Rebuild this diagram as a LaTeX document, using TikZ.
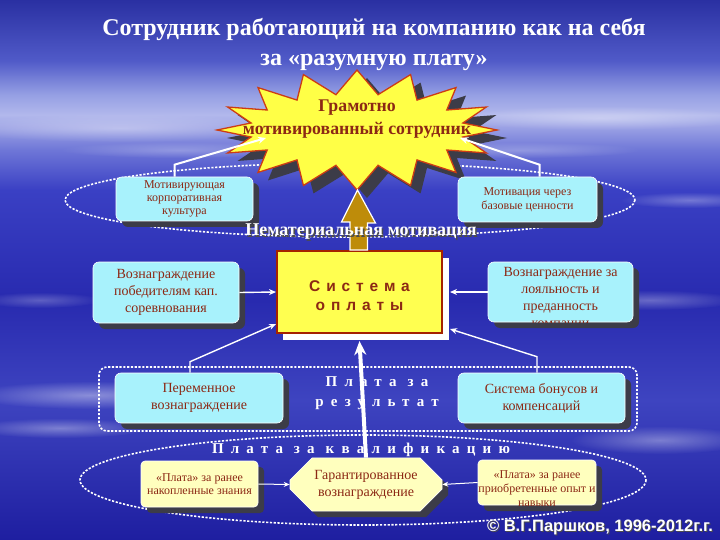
\documentclass[tikz,border=0pt]{standalone}
\usepackage{fontspec}
\setmainfont{Liberation Serif}
\newfontfamily\sansf{Liberation Sans}
\usetikzlibrary{shapes.misc,shadows,arrows.meta,fadings,calc}
\definecolor{boxcyan}{RGB}{168,242,252}
\definecolor{txtred}{RGB}{140,40,20}
\definecolor{starfill}{RGB}{255,255,70}
\definecolor{starborder}{RGB}{205,60,20}
\definecolor{sofill}{RGB}{255,255,80}
\definecolor{soborder}{RGB}{165,35,0}
\definecolor{ylight}{RGB}{255,255,190}
\definecolor{shadowgrey}{RGB}{60,60,72}
\definecolor{brownarrow}{RGB}{190,140,10}
\definecolor{bgA}{RGB}{30,30,160}
\definecolor{bgB}{RGB}{62,68,192}
\definecolor{bgC}{RGB}{40,42,175}
\definecolor{bgD}{RGB}{58,64,196}
\definecolor{bgE}{RGB}{110,118,215}
\definecolor{bgF}{RGB}{178,184,236}
\definecolor{bgG}{RGB}{150,160,228}
\definecolor{bgH}{RGB}{80,90,200}
\definecolor{bgI}{RGB}{42,48,162}
\pgfdeclareverticalshading{bgsh}{100bp}{color(0bp)=(bgA); color(25bp)=(bgA); color(37.96bp)=(bgB); color(47.2bp)=(bgC); color(57.4bp)=(bgD); color(61.1bp)=(bgE); color(64.35bp)=(bgF); color(66.2bp)=(bgG); color(69.4bp)=(bgH); color(75bp)=(bgI); color(100bp)=(bgI)}
\tikzfading[name=softspot, inner color=transparent!0, outer color=transparent!100]
\tikzset{
  shd/.style={drop shadow={shadow xshift=6pt, shadow yshift=-6pt, fill=shadowgrey, opacity=1}},
  cbox/.style={rectangle, rounded corners=6pt, fill=boxcyan, draw=white, line width=0.6pt, text=txtred, align=center, inner sep=1pt, shd},
  ybox/.style={rectangle, rounded corners=4pt, fill=ylight, draw=white, line width=0.6pt, text=txtred, align=center, inner sep=1pt, shd},
  dotline/.style={draw=white, line width=1.6pt, dash pattern=on 2.2pt off 1.6pt},
  warrow/.style={draw=white, line width=2pt, -{Stealth[length=8pt,width=7pt]}},
  tarrow/.style={draw=white, line width=1.4pt, -{Stealth[length=7pt,width=6pt]}},
  thinarrow/.style={draw=white, line width=1pt, -{Stealth[length=6pt,width=5pt]}},
  bigarrow/.style={draw=white, line width=4pt, -{Stealth[length=14pt,width=12pt]}},
  wtext/.style={text=white, align=center},
  boxfont/.style={font=\fontsize{14}{17}\selectfont},
}
\newcommand{\starshape}{(0:140 and 60) \foreach \i [evaluate=\i as \rx using {mod(\i,2)==0 ? 140 : 108}, evaluate=\i as \ry using {mod(\i,2)==0 ? 60 : 36}] in {1,...,31} { -- ({\i*11.25}:{\rx} and {\ry}) } -- cycle}
\begin{document}
\begin{tikzpicture}[x=1pt,y=-1pt]
\useasboundingbox (0,0) rectangle (720,540);
\shade[shading=bgsh] (0,0) rectangle (720,540);
% streaks
\foreach \cx/\cy/\rx/\ry/\op in {120/128/170/14/0.35, 600/118/150/12/0.35, 90/395/120/14/0.4, 60/428/90/10/0.35, 650/300/90/10/0.3, 660/440/90/14/0.35, 40/300/60/8/0.25, 690/200/70/8/0.3, 180/150/120/8/0.25, 520/150/120/8/0.25}{
  \fill[white, opacity=\op, path fading=softspot] (\cx,\cy) ellipse ({\rx} and {\ry});
}
% title
\node[wtext, font=\bfseries\fontsize{24}{30}\selectfont] (title) at (374,45) {Сотрудник работающий на компанию как на себя\\за «разумную плату»};
% top dotted ellipse
\draw[dotline] (350,200) ellipse (285 and 37);
% star
\begin{scope}[shift={(357,130)}]
\fill[shadowgrey, shift={(10,8)}] \starshape;
\filldraw[fill=starfill, draw=starborder, line width=1.3pt, line join=miter] \starshape;
\end{scope}
\node[text=txtred, align=center, font=\bfseries\fontsize{17.8}{23}\selectfont] (star) at (357,119) {Грамотно\\мотивированный сотрудник};
\coordinate (starL) at (266,138);
\coordinate (starR) at (460,138);
% top boxes
\node[cbox, minimum width=137pt, minimum height=44pt, font=\fontsize{12}{13}\selectfont] (mkk) at (184.5,199) {Мотивирующая\\корпоративная\\культура};
\node[cbox, minimum width=139pt, minimum height=45pt, font=\fontsize{12}{14}\selectfont] (mbc) at (527.5,199.5) {Мотивация через\\базовые ценности};
\draw[warrow] ([xshift=-10pt]mkk.north) -- ++(0,-12) -- (starL);
\draw[warrow] ([xshift=12pt]mbc.north) -- ++(0,-12) -- (starR);
% Система оплаты
\fill[white] (283,258) rectangle (449,340);
\node[rectangle, fill=sofill, draw=soborder, line width=2pt, minimum width=165pt, minimum height=82pt, text=txtred, align=center, font=\sansf\bfseries\fontsize{15.5}{19}\selectfont\addfontfeature{LetterSpace=38}] (so) at (359.5,292) {\rule{0pt}{19pt}Система\\оплаты};
% brown arrow
\draw[fill=brownarrow, draw=white, line width=1.2pt] ([xshift=-9.5pt]so.north) -- ++(0,-28) -- ++(-8.5,0) -- (357.5,190) -- ([xshift=16pt]so.north |- 0,223) -- ([xshift=8pt]so.north |- 0,223) -- ([xshift=8pt]so.north) -- cycle;
% Нематериальная мотивация
\node[text=black!70, font=\bfseries\fontsize{18}{20}\selectfont] at (362.5,233.5) {Нематериальная мотивация};
\node[wtext, font=\bfseries\fontsize{18}{20}\selectfont] (nm) at (361,232) {Нематериальная мотивация};
% middle boxes
\node[cbox, minimum width=146pt, minimum height=61pt, boxfont] (vpk) at (166,292.5) {Вознаграждение\\победителям кап.\\соревнования};
\node[cbox, minimum width=145pt, minimum height=60pt] (vlp) at (560.5,292) {};
\begin{scope}
\clip[rounded corners=6pt] (vlp.south west) rectangle (vlp.north east);
\node[text=txtred, align=center, boxfont] (vlpt) at (560.5,297) {Вознаграждение за\\лояльность и\\преданность\\компании};
\end{scope}
\draw[tarrow] (vpk.east) -- (so.west);
\draw[tarrow] (vlp.west) -- ([xshift=7pt]so.east);
% Плата за результат
\draw[dotline, rounded corners=8pt] (99,367) rectangle (637,431);
\node[cbox, minimum width=168pt, minimum height=50pt, boxfont] (pv) at (199,398) {Переменное\\вознаграждение};
\node[cbox, minimum width=167pt, minimum height=50pt, boxfont] (sbk) at (541.5,398) {Система бонусов и\\компенсаций};
\node[wtext, font=\bfseries\fontsize{15}{20}\selectfont\addfontfeature{LetterSpace=48}] (pzr) at (377,393) {Плата за\\результат};
\draw[tarrow] ([xshift=-9pt]pv.north) -- ++(0,-11) -- ([yshift=10pt]so.south west);
\draw[tarrow] ([xshift=-4.5pt]sbk.north) -- ++(0,-16) -- ([xshift=7pt,yshift=5pt]so.south east);
% Плата за квалификацию
\draw[dotline] (363,480) ellipse (283 and 45);
\node[wtext, font=\bfseries\fontsize{15}{20}\selectfont\addfontfeature{LetterSpace=48}] (pzk) at (361,450) {Плата за квалификацию};
\node[ybox, minimum width=117pt, minimum height=46pt, font=\fontsize{12}{13.5}\selectfont] (pnz) at (199.5,484) {«Плата» за ранее\\накопленные знания};
\node[chamfered rectangle, chamfered rectangle xsep=11pt, chamfered rectangle ysep=11pt, fill=ylight, draw=white, line width=0.6pt, minimum width=152pt, minimum height=47pt, text=txtred, align=center, inner sep=1pt, shd, boxfont] (gv) at (366,484.5) {Гарантированное\\вознаграждение};
\node[ybox, minimum width=118pt, minimum height=45pt] (ppo) at (537,482.5) {};
\begin{scope}
\clip[rounded corners=4pt] (ppo.south west) rectangle (ppo.north east);
\node[text=txtred, align=center, font=\fontsize{12}{14}\selectfont] (ppot) at (537,489) {«Плата» за ранее\\приобретенные опыт и\\навыки};
\end{scope}
\draw[thinarrow] (pnz.east) -- (gv.west);
\draw[thinarrow] (ppo.west) -- (gv.east);
\draw[bigarrow] (gv.north) -- ([yshift=-7pt]so.south);
% copyright
\node[text=black!70, font=\sansf\bfseries\fontsize{16.5}{18}\selectfont] at (601,528.5) {© В.Г.Паршков, 1996-2012г.г.};
\node[text=white, font=\sansf\bfseries\fontsize{16.5}{18}\selectfont] (copy) at (600,527) {© В.Г.Паршков, 1996-2012г.г.};
\end{tikzpicture}
\end{document}
